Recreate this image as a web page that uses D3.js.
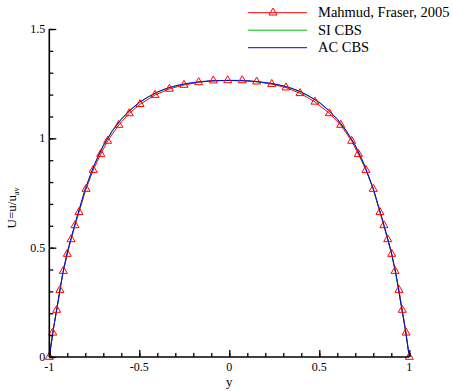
<!DOCTYPE html>
<html>
<head>
<meta charset="utf-8">
<script src="https://cdn.jsdelivr.net/npm/d3@7"></script>
<style>
  body { margin: 0; background: #fff; }
</style>
</head>
<body>
<svg id="chart" width="453" height="391"></svg>
<script>
// Mahmud, Fraser (2005) reference points
const refY = [-1, -0.981, -0.959, -0.941, -0.922, -0.9, -0.879, -0.857, -0.835, -0.796, -0.756, -0.714,
  -0.676, -0.614, -0.556, -0.496, -0.413, -0.333, -0.252, -0.17, -0.089, -0.009, 0.072, 0.152, 0.236,
  0.315, 0.393, 0.476, 0.556, 0.619, 0.68, 0.717, 0.759, 0.8, 0.837, 0.859, 0.88, 0.902, 0.921, 0.943,
  0.961, 0.982, 1];
const refU = [0, 0.111, 0.215, 0.306, 0.393, 0.471, 0.538, 0.602, 0.662, 0.768, 0.855, 0.928,
  0.988, 1.061, 1.114, 1.156, 1.198, 1.226, 1.244, 1.256, 1.264, 1.265, 1.265, 1.259, 1.248,
  1.232, 1.206, 1.167, 1.114, 1.061, 0.988, 0.928, 0.855, 0.768, 0.662, 0.602, 0.538, 0.471, 0.393, 0.306,
  0.215, 0.111, 0];

// CBS solutions
const cbsY = [-1, -0.975, -0.95, -0.925, -0.9, -0.875, -0.85, -0.8, -0.75, -0.7, -0.65, -0.6, -0.55, -0.5,
  -0.45, -0.4, -0.35, -0.3, -0.25, -0.2, -0.15, -0.1, -0.05, 0, 0.05, 0.1, 0.15, 0.2, 0.25, 0.3, 0.35,
  0.4, 0.45, 0.5, 0.55, 0.6, 0.65, 0.7, 0.75, 0.8, 0.85, 0.875, 0.9, 0.925, 0.95, 0.975, 1];
const siU = [0, 0.139, 0.259, 0.382, 0.477, 0.553, 0.627, 0.766, 0.877, 0.965, 1.032, 1.086, 1.128, 1.163,
  1.189, 1.21, 1.227, 1.239, 1.248, 1.254, 1.259, 1.262, 1.264, 1.264, 1.264, 1.262, 1.259, 1.254, 1.248,
  1.239, 1.227, 1.21, 1.189, 1.163, 1.128, 1.086, 1.032, 0.965, 0.877, 0.766, 0.627, 0.553, 0.477, 0.382,
  0.259, 0.139, 0];
const acU = [0, 0.14, 0.26, 0.385, 0.48, 0.555, 0.63, 0.77, 0.88, 0.968, 1.035, 1.088, 1.13, 1.165,
  1.19, 1.212, 1.228, 1.24, 1.249, 1.255, 1.26, 1.263, 1.264, 1.265, 1.264, 1.263, 1.26, 1.255, 1.249,
  1.24, 1.228, 1.212, 1.19, 1.165, 1.13, 1.088, 1.035, 0.968, 0.88, 0.77, 0.63, 0.555, 0.48, 0.385,
  0.26, 0.14, 0];

const xTicks = [-1, -0.5, 0, 0.5, 1];
const yTicks = [0, 0.5, 1, 1.5];
const legendLabels = ['Mahmud, Fraser, 2005', 'SI CBS', 'AC CBS'];

const serif = "'Times New Roman', Times, 'Liberation Serif', 'DejaVu Serif', serif";
const svg = d3.select('#chart');
const margin = { top: 29, left: 49.3 };

const x = d3.scaleLinear().domain([-1, 1]).range([margin.left, margin.left + 360]);
const y = d3.scaleLinear().domain([0, 1.5]).range([357, margin.top]);

const line = d3.line().x((d) => x(d[0])).y((d) => y(d[1]));
const zip = (a, b) => a.map((v, i) => [v, b[i]]);

const tri = d3.symbol().type(d3.symbolTriangle).size(28);

// curves
const plot = svg.append('g');
plot.append('path').datum(zip(refY, refU)).attr('d', line)
  .attr('fill', 'none').attr('stroke', '#ff0000').attr('stroke-width', 1);
plot.append('path').datum(zip(cbsY, siU)).attr('d', line)
  .attr('fill', 'none').attr('stroke', '#00c000').attr('stroke-width', 1);
plot.append('path').datum(zip(cbsY, acU)).attr('d', line)
  .attr('fill', 'none').attr('stroke', '#0000ff').attr('stroke-width', 1);
plot.selectAll('path.mark').data(zip(refY, refU)).enter().append('path')
  .attr('class', 'mark')
  .attr('d', tri)
  .attr('transform', (d) => `translate(${x(d[0])},${y(d[1])})`)
  .attr('fill', 'none').attr('stroke', '#ff0000').attr('stroke-width', 1);

// axes (ticks drawn inward)
const xAxis = d3.axisTop(x).tickValues(xTicks).tickSize(7).tickFormat('');
const xMinor = d3.axisTop(x).tickValues(d3.range(-10, 11).map((i) => i / 10)).tickSize(4).tickFormat('');
const yAxis = d3.axisRight(y).tickValues(yTicks).tickSize(7).tickFormat('');
const yMinor = d3.axisRight(y).tickValues(d3.range(0, 16).map((i) => i / 10)).tickSize(4).tickFormat('');

[xAxis, xMinor].forEach((a) => {
  const g = svg.append('g').attr('transform', `translate(0,${y(0)})`).call(a);
  g.select('.domain').remove();
  g.selectAll('line').attr('stroke', '#000').attr('stroke-width', 1.3);
});
[yAxis, yMinor].forEach((a) => {
  const g = svg.append('g').attr('transform', `translate(${x(-1)},0)`).call(a);
  g.select('.domain').remove();
  g.selectAll('line').attr('stroke', '#000').attr('stroke-width', 1.3);
});
svg.append('line').attr('x1', x(-1)).attr('x2', x(1)).attr('y1', y(0)).attr('y2', y(0))
  .attr('stroke', '#000').attr('stroke-width', 1.6);
svg.append('line').attr('x1', x(-1)).attr('x2', x(-1)).attr('y1', y(0)).attr('y2', y(1.5))
  .attr('stroke', '#000').attr('stroke-width', 1.6);

// tick labels
svg.selectAll('text.xt').data(xTicks).enter().append('text')
  .attr('x', (d) => x(d)).attr('y', 371)
  .attr('text-anchor', 'middle').attr('font-size', 12).style('font-family', serif)
  .text((d) => String(d));
svg.selectAll('text.yt').data(yTicks).enter().append('text')
  .attr('x', x(-1) - 4).attr('y', (d) => y(d) + 4)
  .attr('text-anchor', 'end').attr('font-size', 12).style('font-family', serif)
  .text((d) => String(d));

// axis titles
svg.append('text').attr('x', x(0)).attr('y', 386).style('font-family', serif)
  .attr('text-anchor', 'middle').attr('font-size', 13).text('y');
const yl = svg.append('text').attr('transform', 'translate(16,208) rotate(-90)')
  .attr('text-anchor', 'middle').attr('font-size', 13).style('font-family', serif);
yl.append('tspan').text('U=u/u');
yl.append('tspan').attr('font-size', 8).attr('dy', 3).text('av');

// legend
const legColors = ['#ff0000', '#00c000', '#0000ff'];
const leg = svg.append('g');
legendLabels.forEach((t, i) => {
  const ly = 12.7 + i * 17.5;
  leg.append('line').attr('x1', 248).attr('x2', 307).attr('y1', ly).attr('y2', ly)
    .attr('stroke', legColors[i]).attr('stroke-width', 1);
  if (i === 0) {
    leg.append('path').attr('d', tri).attr('transform', `translate(273,${ly})`)
      .attr('fill', 'none').attr('stroke', '#ff0000').attr('stroke-width', 1);
  }
  leg.append('text').attr('x', 318).attr('y', ly + 4.5).attr('font-size', 14.5)
    .style('font-family', serif).text(t);
});
</script>
</body>
</html>
